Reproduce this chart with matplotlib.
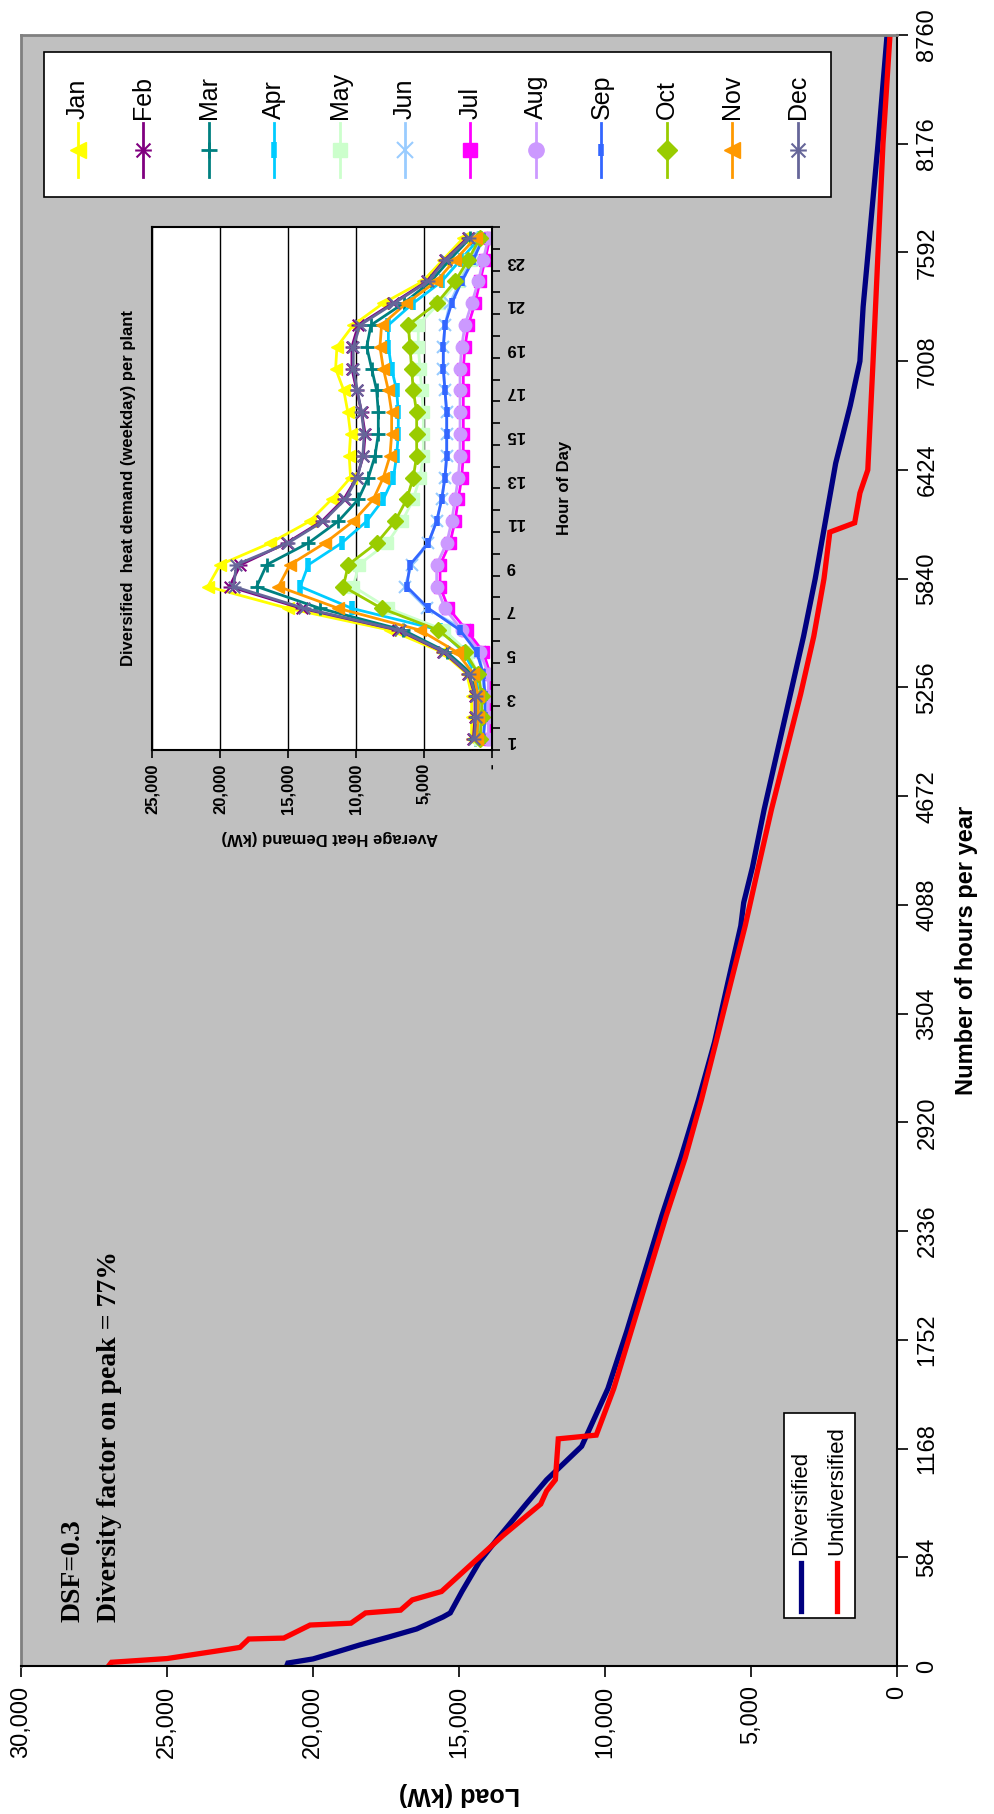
import numpy as np
import matplotlib
matplotlib.use("Agg")
import matplotlib.pyplot as plt
from matplotlib.lines import Line2D
from matplotlib.patches import Rectangle
from matplotlib.path import Path

plt.rcParams['font.family'] = ['Liberation Sans', 'DejaVu Sans']

# load duration curves (hours of year vs load in kW)
red_hours = [0, 20, 40, 90, 100, 145, 150, 220, 230, 285, 300, 355, 400, 500, 600, 700, 870, 940,
             1000, 1220, 1240, 1490, 1800, 2110, 2420, 2730, 3040, 3350, 3665, 3975, 4290, 4600,
             4910, 5220, 5530, 5840, 6090, 6140, 6300, 6424, 7008, 7592, 8176, 8760]
red_load = [27000, 26900, 25000, 22900, 22500, 22200, 21000, 20100, 18700, 18200, 17000, 16600,
            15600, 14900, 14200, 13500, 12200, 12000, 11700, 11600, 10300, 9700, 9100, 8500, 7900,
            7250, 6700, 6200, 5700, 5200, 4750, 4300, 3800, 3300, 2850, 2500, 2300, 1450, 1270,
            1000, 820, 650, 480, 240]
blue_hours = [0, 16, 38, 75, 113, 156, 199, 263, 285, 400, 560, 680, 870, 1000, 1060, 1180, 1490,
              1800, 2110, 2420, 2730, 3040, 3350, 3665, 3975, 4100, 4290, 4600, 4910, 5220, 5530,
              5840, 6150, 6460, 6770, 7008, 7300, 7592, 8176, 8760]
blue_load = [20900, 20860, 20000, 19200, 18400, 17400, 16450, 15550, 15300, 14900, 14300, 13700,
             12700, 12000, 11600, 10800, 9900, 9250, 8650, 8050, 7400, 6800, 6250, 5800, 5350,
             5250, 4950, 4550, 4100, 3650, 3200, 2800, 2450, 2100, 1600, 1270, 1160, 990, 650, 340]

hour_ticks = list(range(0, 8761, 584))
load_ticks = [0, 5000, 10000, 15000, 20000, 25000, 30000]

# inset: average weekday heat demand per hour (kW)
hours = list(range(1, 25))
months = ['Jan', 'Feb', 'Mar', 'Apr', 'May', 'Jun', 'Jul', 'Aug', 'Sep', 'Oct', 'Nov', 'Dec']
jan = [1500, 1500, 1500, 1850, 3700, 7500, 15000, 20900, 20000, 16300, 13400, 11800, 10400, 10500,
       10400, 10600, 10900, 11500, 11400, 10200, 8000, 5100, 3600, 2100]
feb = [1370, 1250, 1250, 1740, 3580, 6900, 14000, 19300, 18500, 15100, 12500, 10900, 9950, 9460,
       9330, 9580, 9950, 10300, 10300, 9830, 7300, 4800, 3460, 1800]
mar = [1250, 1130, 1130, 1500, 3330, 6520, 12650, 17300, 16570, 13500, 11300, 9830, 9090, 8600,
       8360, 8360, 8480, 8850, 9210, 8900, 6500, 4500, 3100, 1600]
apr = [1010, 880, 880, 1250, 2100, 3820, 10300, 14100, 13500, 11050, 9210, 7990, 7250, 7010, 6890,
       6890, 7010, 7380, 7620, 7620, 5800, 3700, 2300, 900]
may = [880, 760, 760, 1010, 1800, 3500, 7620, 10200, 9800, 7700, 6600, 5800, 5300, 5050, 5050,
       5050, 5170, 5290, 5420, 5420, 3900, 2500, 1600, 760]
jun = [640, 510, 510, 760, 880, 1990, 4800, 6400, 5910, 4680, 4070, 3700, 3460, 3330, 3330, 3330,
       3460, 3580, 3580, 3460, 3090, 2350, 1490, 760]
jul = [150, 150, 150, 150, 640, 1870, 3200, 3820, 3820, 3090, 2720, 2480, 2230, 2110, 2110, 2110,
       2110, 2110, 1990, 1740, 1250, 880, 510, 150]
aug = [270, 270, 270, 270, 880, 2230, 3460, 4070, 4070, 3330, 2960, 2720, 2480, 2350, 2350, 2350,
       2350, 2350, 2230, 1990, 1490, 1010, 640, 270]
sep = [640, 510, 510, 640, 1130, 2350, 4680, 6270, 6030, 4680, 4070, 3700, 3460, 3330, 3330, 3330,
       3460, 3580, 3580, 3460, 2960, 2230, 1370, 640]
oct_ = [880, 760, 760, 1010, 1990, 3940, 8120, 10930, 10570, 8480, 7130, 6270, 5790, 5540, 5540,
        5540, 5790, 5910, 6030, 6150, 4070, 2720, 1740, 880]
nov = [1130, 1010, 1010, 1370, 2600, 5290, 11300, 15700, 14860, 12280, 10200, 8730, 7990, 7500,
       7380, 7380, 7620, 7990, 8240, 8120, 6300, 4100, 2700, 1200]
dec = [1300, 1200, 1200, 1700, 3500, 6800, 13800, 19000, 18800, 15000, 12400, 10800, 9900, 9500,
       9400, 9600, 9900, 10200, 10200, 9700, 7200, 4700, 3400, 1700]
inset_ticks = [0, 5000, 10000, 15000, 20000, 25000]
inset_labels = ['-', '5,000', '10,000', '15,000', '20,000', '25,000']

W, H = 995, 1814
def fx(px):
    return px / W
def fy(py):
    return 1 - py / H

fig = plt.figure(figsize=(W / 100, H / 100), dpi=100)

# ---- main chart (drawn sideways: load runs right-to-left, hours bottom-to-top)
ax = fig.add_axes([fx(21), fy(1666), (897 - 21) / W, (1666 - 35) / H])
ax.set_facecolor('#c0c0c0')
ax.plot(blue_load, blue_hours, color='#000080', lw=3.8, solid_joinstyle='miter')
ax.plot(red_load, red_hours, color='#ff0000', lw=3.8, solid_joinstyle='miter')
ax.set_xlim(30000, 0)
ax.set_ylim(0, 8760)
ax.set_xticks(load_ticks)
ax.set_xticklabels(['{:,}'.format(v) for v in load_ticks], rotation=90)
ax.yaxis.tick_right()
ax.set_yticks(hour_ticks)
ax.set_yticklabels([str(v) for v in hour_ticks], rotation=90, va='center')
ax.tick_params(axis='both', direction='out', length=8, width=1.2, labelsize=17, pad=6)
for side in ['left', 'top']:
    ax.spines[side].set_color('#808080')
    ax.spines[side].set_linewidth(2)
for side in ['right', 'bottom']:
    ax.spines[side].set_color('black')
    ax.spines[side].set_linewidth(1.5)

fig.text(fx(459), fy(1794), 'Load (kW)', rotation=180, ha='center', va='center',
         fontsize=18, fontweight='bold')
fig.text(fx(967), fy(950), 'Number of hours per year', rotation=90, ha='center', va='center',
         fontsize=17, fontweight='bold')

fig.text(fx(73), fy(1622), 'DSF=0.3', rotation=90, ha='center', va='bottom',
         family='Liberation Serif', fontweight='bold', fontsize=20)
fig.text(fx(110), fy(1622), 'Diversity factor on peak = 77%', rotation=90, ha='center', va='bottom',
         family='Liberation Serif', fontweight='bold', fontsize=20)

# legend for the two curves
fig.add_artist(Rectangle((fx(784), fy(1618)), (855 - 784) / W, (1618 - 1413) / H,
                         transform=fig.transFigure, fc='white', ec='black', lw=1.2))
for px, col, name in [(801, '#000080', 'Diversified'), (837, '#ff0000', 'Undiversified')]:
    fig.add_artist(Line2D([fx(px), fx(px)], [fy(1611), fy(1563)], transform=fig.transFigure,
                          color=col, lw=3.8))
    fig.text(fx(px), fy(1555), name, rotation=90, ha='center', va='bottom', fontsize=16)

# ---- inset chart
asterisk = Path([(-1, -1), (1, 1), (-1, 1), (1, -1), (-1.2, 0), (1.2, 0)],
                [Path.MOVETO, Path.LINETO, Path.MOVETO, Path.LINETO, Path.MOVETO, Path.LINETO])
series = [
    (jan, '#ffff00', '<', 9, 1),
    (feb, '#800080', asterisk, 10, 1.5),
    (mar, '#008080', '+', 10, 2),
    (apr, '#00ccff', '|', 10, 4),
    (may, '#ccffcc', 's', 8, 1),
    (jun, '#99ccff', 'x', 9, 1.5),
    (jul, '#ff00ff', 's', 8, 1),
    (aug, '#cc99ff', 'o', 9, 1),
    (sep, '#3366ff', '|', 7, 4),
    (oct_, '#99cc00', 'D', 8, 1),
    (nov, '#ff9900', '<', 9, 1),
    (dec, '#666699', asterisk, 10, 1.5),
]

ax2 = fig.add_axes([fx(152), fy(750), (492 - 152) / W, (750 - 227) / H])
ax2.set_facecolor('white')
for vals, col, mk, ms, mew in series:
    ax2.plot(vals, hours, color=col, lw=2, marker=mk, ms=ms, mew=mew, mec=col, mfc=col)
ax2.set_xlim(25000, 0)
ax2.set_ylim(0.5, 24.5)
ax2.set_xticks(inset_ticks)
ax2.set_xticklabels(inset_labels, rotation=90, fontweight='bold')
ax2.grid(axis='x', color='black', lw=1)
ax2.yaxis.tick_right()
ax2.set_yticks(np.arange(0.5, 24.6, 1))
ax2.set_yticklabels([])
ax2.set_yticks(hours[::2], minor=True)
ax2.set_yticklabels([str(h) for h in hours[::2]], minor=True, rotation=180, fontweight='bold')
ax2.tick_params(axis='both', which='major', direction='out', length=6, width=1.2, labelsize=12)
ax2.tick_params(axis='y', which='minor', length=0, labelsize=12, pad=10)
for sp in ax2.spines.values():
    sp.set_color('black')
    sp.set_linewidth(1.5)

fig.text(fx(330), fy(838), 'Average Heat Demand (kW)', rotation=180, ha='center', va='center',
         fontsize=12, fontweight='bold')
fig.text(fx(565), fy(488), 'Hour of Day', rotation=90, ha='center', va='center',
         fontsize=12, fontweight='bold')
fig.text(fx(128), fy(488), 'Diversified  heat demand (weekday) per plant', rotation=90,
         ha='center', va='center', fontsize=12, fontweight='bold')

# month legend
fig.add_artist(Rectangle((fx(44), fy(197)), (831 - 44) / W, (197 - 52) / H,
                         transform=fig.transFigure, fc='white', ec='black', lw=1.2))
for i, (name, (vals, col, mk, ms, mew)) in enumerate(zip(months, series)):
    px = 77.5 + 65.5 * i
    fig.add_artist(Line2D([fx(px), fx(px)], [fy(177), fy(123)], transform=fig.transFigure,
                          color=col, lw=2))
    fig.add_artist(Line2D([fx(px)], [fy(150)], transform=fig.transFigure, color=col,
                          marker=mk, ms=ms + 2, mew=mew, mec=col, mfc=col))
    fig.text(fx(px), fy(119), name, rotation=90, ha='center', va='bottom', fontsize=18)

fig.savefig('out.png', dpi=100)
